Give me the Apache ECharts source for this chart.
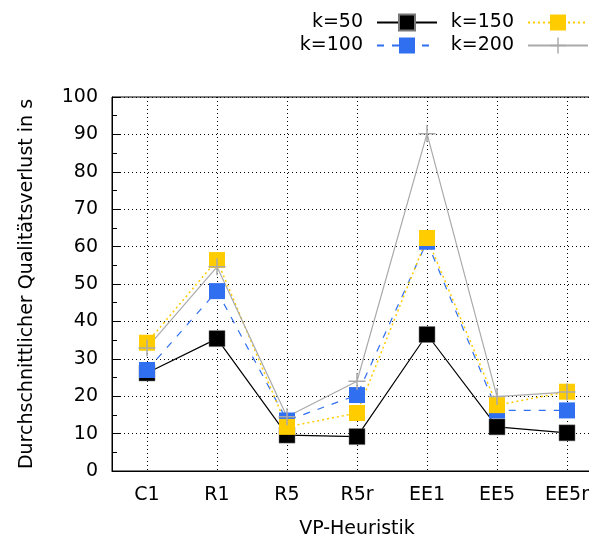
<!DOCTYPE html>
<html><head><meta charset="utf-8">
<script src="https://cdn.jsdelivr.net/npm/echarts@6/dist/echarts.min.js"></script>
<style>html,body{margin:0;padding:0;background:#fff}#c{width:589px;height:541px}</style>
</head><body><div id="c"></div>
<script>
const categories = ['C1','R1','R5','R5r','EE1','EE5','EE5r'];
const k50  = [26.2, 35.4, 9.6, 9.2, 36.5, 11.8, 10.2];
const k100 = [27.0, 48.1, 13.5, 20.3, 61.3, 16.2, 16.2];
const k150 = [34.3, 56.4, 11.8, 15.5, 62.3, 17.6, 21.2];
const k200 = [32.9, 54.6, 14.5, 24.0, 90.2, 19.9, 21.1];
const yTicks = [0,10,20,30,40,50,60,70,80,90,100];

const FONT = 'DejaVu Sans';
const plus = 'path://M0,4.55H10V5.45H0Z M4.55,0H5.45V10H4.55Z';
const chart = echarts.init(document.getElementById('c'), null, {renderer:'canvas'});
const legendBase = {padding:0, itemWidth:60, itemHeight:20, align:'right',
  textStyle:{fontFamily:FONT, fontSize:19, color:'#000', padding:[0,9,0,0]}, selectedMode:false};
chart.setOption({
  animation:false,
  textStyle:{fontFamily:FONT},
  legend:[
    Object.assign({data:['k=50'], right:151, top:13}, legendBase),
    Object.assign({data:['k=150'], right:0, top:13}, legendBase),
    Object.assign({data:['k=100'], right:151, top:36}, legendBase),
    Object.assign({data:['k=200'], right:0, top:36}, legendBase)
  ],
  grid:{left:112, top:97, bottom:70, right:-13, outerBoundsMode:'none', containLabel:false,
    show:true, borderColor:'#000', borderWidth:1},
  xAxis:{type:'category', data:categories, boundaryGap:true,
    name:'VP-Heuristik', nameLocation:'middle', nameGap:49,
    nameTextStyle:{fontFamily:FONT, fontSize:19, color:'#000'},
    axisLine:{lineStyle:{color:'#000', width:1}},
    axisTick:{inside:true, alignWithLabel:true, length:10, lineStyle:{color:'#000'}},
    axisLabel:{fontFamily:FONT, fontSize:19, color:'#000', margin:15},
    splitLine:{show:true, alignWithLabel:true, lineStyle:{color:'#000', type:[1,3], width:1}}
  },
  yAxis:{type:'value', min:0, max:100, interval:10,
    name:'Durchschnittlicher Qualitätsverlust in s', nameLocation:'middle', nameGap:75,
    nameTextStyle:{fontFamily:FONT, fontSize:19, color:'#000'},
    axisLine:{show:true, lineStyle:{color:'#000', width:1}},
    axisTick:{show:true, inside:true, length:8, lineStyle:{color:'#000'}},
    minorTick:{show:true, splitNumber:2, length:5, lineStyle:{color:'#000'}},
    axisLabel:{fontFamily:FONT, fontSize:19, color:'#000', margin:14,
      formatter:v=> yTicks.includes(v) ? String(v) : ''},
    splitLine:{show:true, lineStyle:{color:'#000', type:[1,3], width:1}}
  },
  series:[
    {name:'k=50', type:'line', data:k50, symbol:'rect', symbolSize:16,
      lineStyle:{color:'#000', width:1.2}, itemStyle:{color:'#000', borderColor:'#777', borderWidth:0.5}},
    {name:'k=100', type:'line', data:k100, symbol:'rect', symbolSize:16,
      lineStyle:{color:'#2f6ff0', width:1.2, type:[7,8]}, itemStyle:{color:'#2f6ff0'}},
    {name:'k=150', type:'line', data:k150, symbol:'rect', symbolSize:16,
      lineStyle:{color:'#ffcc00', width:1.5, type:[2,3]}, itemStyle:{color:'#ffcc00'}},
    {name:'k=200', type:'line', data:k200, symbol:plus, symbolSize:17,
      lineStyle:{color:'#aaaaaa', width:1.2}, itemStyle:{color:'#aaaaaa'}}
  ]
});
</script></body></html>
